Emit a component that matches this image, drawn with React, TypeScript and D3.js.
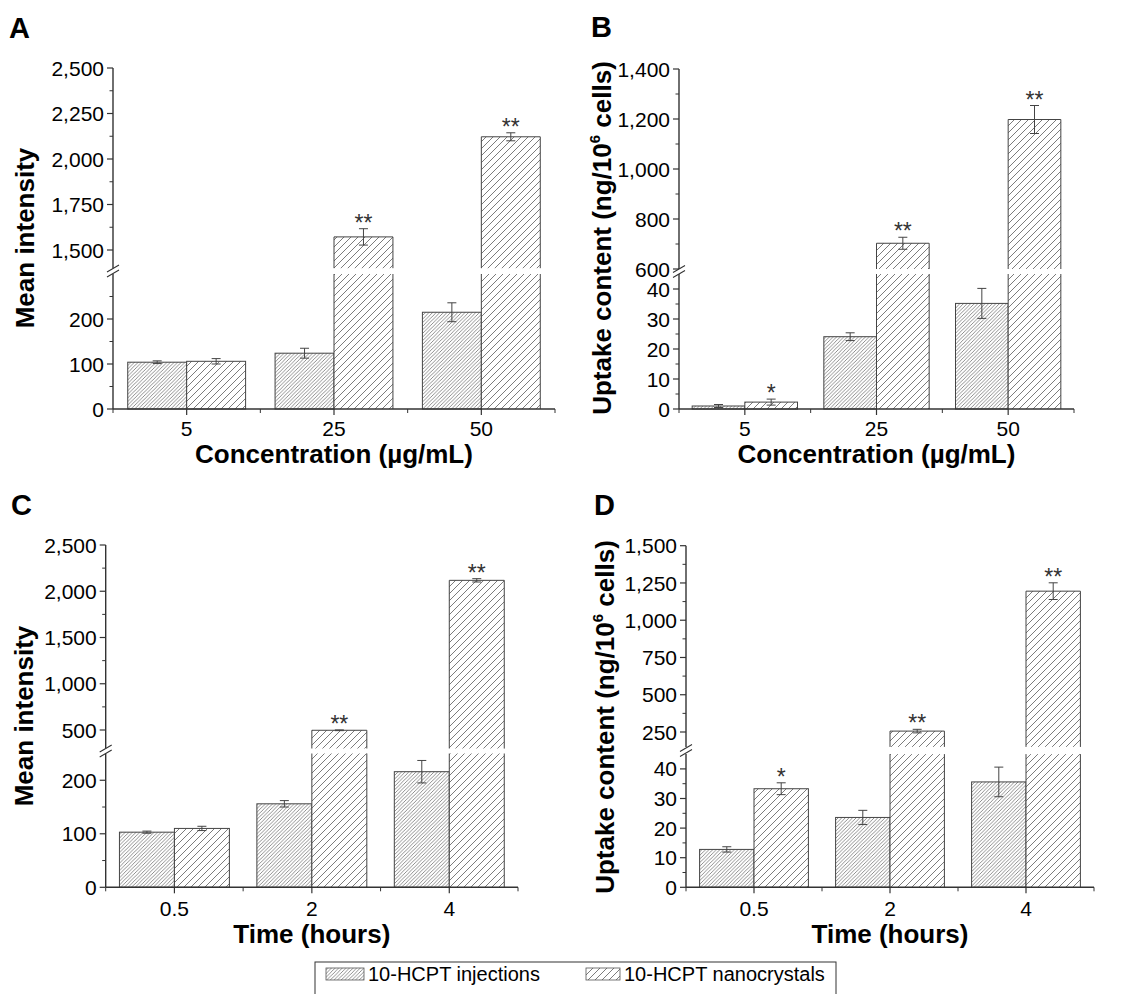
import React from "react";
import * as d3 from "d3";

// ---------- data ----------
const concCats = ["5", "25", "50"];
const timeCats = ["0.5", "2", "4"];

const aInj = [104, 124, 215];
const aInjErr = [3, 11, 21];
const aNano = [106, 1572, 2122];
const aNanoErr = [6, 45, 22];
const aStars = ["", "**", "**"];

const bInj = [1.0, 24.1, 35.2];
const bInjErr = [0.5, 1.3, 5.0];
const bNano = [2.3, 703, 1198];
const bNanoErr = [1.0, 24, 56];
const bStars = ["*", "**", "**"];

const cInj = [103, 156, 216];
const cInjErr = [2, 6, 21];
const cNano = [110, 497, 2118];
const cNanoErr = [4, 4, 18];
const cStars = ["", "**", "**"];

const dInj = [12.8, 23.6, 35.6];
const dInjErr = [0.9, 2.4, 5];
const dNano = [33.3, 256, 1195];
const dNanoErr = [2, 12, 56];
const dStars = ["*", "**", "**"];

// axis ticks (lower segment / upper segment of broken axes)
const aLowMajor = [0, 100, 200];
const aLowMinor = [50, 150, 250];
const aUpMajor = [1500, 1750, 2000, 2250, 2500];
const aUpMinor = [1625, 1875, 2125, 2375];

const bLowMajor = [0, 10, 20, 30, 40];
const bLowMinor = [5, 15, 25, 35];
const bUpMajor = [600, 800, 1000, 1200, 1400];
const bUpMinor = [700, 900, 1100, 1300];

const cLowMajor = [0, 100, 200];
const cLowMinor = [50, 150];
const cUpMajor = [500, 1000, 1500, 2000, 2500];
const cUpMinor = [750, 1250, 1750, 2250];

const dLowMajor = [0, 10, 20, 30, 40];
const dLowMinor = [5, 15, 25, 35];
const dUpMajor = [250, 500, 750, 1000, 1250, 1500];
const dUpMinor = [375, 625, 875, 1125, 1375];

const seriesNames = ["10-HCPT injections", "10-HCPT nanocrystals"];

const FONT = "'Liberation Sans', Arial, Helvetica, sans-serif";
const AX = "#333";

type Cfg = {
  letter: string; letterX: number; letterY: number;
  cats: string[];
  inj: number[]; injErr: number[]; nano: number[]; nanoErr: number[]; stars: string[];
  axisX: number; axisEnd: number; axisY: number;
  lowDomain: [number, number]; lowTopY: number;
  upDomain: [number, number]; upBottomY: number; upTopY: number;
  lowMajor: number[]; lowMinor: number[]; upMajor: number[]; upMinor: number[];
  yLabel: "mean" | "uptake"; yLabelX: number; yLabelY: number;
  xLabel: string; tickDy: number; titleDy: number;
};

const panels: Cfg[] = [
  {
    letter: "A", letterX: 9, letterY: 38, cats: concCats,
    inj: aInj, injErr: aInjErr, nano: aNano, nanoErr: aNanoErr, stars: aStars,
    axisX: 113, axisEnd: 555, axisY: 409,
    lowDomain: [0, 300], lowTopY: 274,
    upDomain: [1400, 2500], upBottomY: 268.2, upTopY: 68,
    lowMajor: aLowMajor, lowMinor: aLowMinor, upMajor: aUpMajor, upMinor: aUpMinor,
    yLabel: "mean", yLabelX: 34, yLabelY: 238, xLabel: "Concentration (µg/mL)",
    tickDy: 27, titleDy: 54,
  },
  {
    letter: "B", letterX: 591, letterY: 37, cats: concCats,
    inj: bInj, injErr: bInjErr, nano: bNano, nanoErr: bNanoErr, stars: bStars,
    axisX: 679, axisEnd: 1074, axisY: 409,
    lowDomain: [0, 45], lowTopY: 274,
    upDomain: [600, 1400], upBottomY: 269, upTopY: 69,
    lowMajor: bLowMajor, lowMinor: bLowMinor, upMajor: bUpMajor, upMinor: bUpMinor,
    yLabel: "uptake", yLabelX: 611, yLabelY: 238, xLabel: "Concentration (µg/mL)",
    tickDy: 27, titleDy: 54,
  },
  {
    letter: "C", letterX: 11, letterY: 515, cats: timeCats,
    inj: cInj, injErr: cInjErr, nano: cNano, nanoErr: cNanoErr, stars: cStars,
    axisX: 105.7, axisEnd: 518, axisY: 887.3,
    lowDomain: [0, 250], lowTopY: 753.5,
    upDomain: [300, 2500], upBottomY: 748.5, upTopY: 545,
    lowMajor: cLowMajor, lowMinor: cLowMinor, upMajor: cUpMajor, upMinor: cUpMinor,
    yLabel: "mean", yLabelX: 33, yLabelY: 716, xLabel: "Time (hours)",
    tickDy: 29, titleDy: 56,
  },
  {
    letter: "D", letterX: 594, letterY: 515, cats: timeCats,
    inj: dInj, injErr: dInjErr, nano: dNano, nanoErr: dNanoErr, stars: dStars,
    axisX: 686, axisEnd: 1094, axisY: 887.3,
    lowDomain: [0, 45], lowTopY: 754.1,
    upDomain: [150, 1500], upBottomY: 746.9, upTopY: 545.7,
    lowMajor: dLowMajor, lowMinor: dLowMinor, upMajor: dUpMajor, upMinor: dUpMinor,
    yLabel: "uptake", yLabelX: 614, yLabelY: 717, xLabel: "Time (hours)",
    tickDy: 29, titleDy: 56,
  },
];

const fmt = d3.format(",");
const TICK_FS = 21;

function Panel({ c }: { c: Cfg }) {
  const x = d3.scaleBand<string>().domain(c.cats).range([c.axisX, c.axisEnd]).paddingInner(0.2).paddingOuter(0.1);
  const sub = d3.scaleBand<string>().domain(["inj", "nano"]).range([0, x.bandwidth()]);
  const low = d3.scaleLinear().domain(c.lowDomain).range([c.axisY, c.lowTopY]);
  const up = d3.scaleLinear().domain(c.upDomain).range([c.upBottomY, c.upTopY]);
  const y = (v: number) => (v <= c.lowDomain[1] ? low(v) : up(v));
  const step = x.step();
  const breakMid = (c.lowTopY + c.upBottomY) / 2;

  const bars: any[] = [];
  c.cats.forEach((cat, i) => {
    (["inj", "nano"] as const).forEach((s) => {
      const v = s === "inj" ? c.inj[i] : c.nano[i];
      const e = s === "inj" ? c.injErr[i] : c.nanoErr[i];
      const bx = (x(cat) as number) + (sub(s) as number);
      const bw = sub.bandwidth();
      const fill = s === "inj" ? "url(#hInj)" : "url(#hNano)";
      const broken = v > c.lowDomain[1];
      const topY = y(v);
      const segs: any[] = [];
      if (!broken) {
        segs.push(
          <rect key="l" x={bx} y={topY} width={bw} height={c.axisY - topY} fill={fill} stroke="#444" strokeWidth={1} />
        );
      } else {
        segs.push(
          <g key="b">
            <rect x={bx} y={c.lowTopY} width={bw} height={c.axisY - c.lowTopY} fill={fill} />
            <rect x={bx} y={topY} width={bw} height={c.upBottomY - topY} fill={fill} />
            <path
              d={`M${bx},${c.axisY}V${c.lowTopY}M${bx + bw},${c.axisY}V${c.lowTopY}M${bx},${c.upBottomY}V${topY}H${bx + bw}V${c.upBottomY}`}
              fill="none" stroke="#444" strokeWidth={1}
            />
          </g>
        );
      }
      const cx = bx + bw / 2;
      const eTop = y(v + e);
      const eBot = y(v - e);
      segs.push(
        <path key="e" d={`M${cx},${eTop}V${eBot}M${cx - 4.5},${eTop}H${cx + 4.5}M${cx - 4.5},${eBot}H${cx + 4.5}`}
          stroke="#444" strokeWidth={1} fill="none" />
      );
      if (s === "nano" && c.stars[i]) {
        segs.push(
          <text key="s" x={cx} y={eTop + 2} textAnchor="middle" fontSize={23} fill="#333" fontFamily={FONT}>
            {c.stars[i]}
          </text>
        );
      }
      bars.push(<g key={cat + s}>{segs}</g>);
    });
  });

  const bounds = [0, 1, 2, 3].map((k) => c.axisX + step * k);

  return (
    <g fontFamily={FONT}>
      <text x={c.letterX} y={c.letterY} fontSize={29} fontWeight="bold" fill="#000">{c.letter}</text>
      {bars}
      {/* y axis */}
      <path d={`M${c.axisX},${c.axisY}V${c.lowTopY}`} stroke={AX} strokeWidth={1.4} />
      <path d={`M${c.axisX},${c.upBottomY}V${c.upTopY}`} stroke={AX} strokeWidth={1.4} />
      {c.lowMajor.map((t) => (
        <g key={"lm" + t}>
          <line x1={c.axisX - 6} x2={c.axisX} y1={low(t)} y2={low(t)} stroke={AX} strokeWidth={1.2} />
          <text x={c.axisX - 9} y={low(t)} dy="0.36em" textAnchor="end" fontSize={TICK_FS} fill="#000">{fmt(t)}</text>
        </g>
      ))}
      {c.lowMinor.map((t) => (
        <line key={"ln" + t} x1={c.axisX - 3.5} x2={c.axisX} y1={low(t)} y2={low(t)} stroke={AX} strokeWidth={1} />
      ))}
      {c.upMajor.map((t) => (
        <g key={"um" + t}>
          <line x1={c.axisX - 6} x2={c.axisX} y1={up(t)} y2={up(t)} stroke={AX} strokeWidth={1.2} />
          <text x={c.axisX - 9} y={up(t)} dy="0.36em" textAnchor="end" fontSize={TICK_FS} fill="#000">{fmt(t)}</text>
        </g>
      ))}
      {c.upMinor.map((t) => (
        <line key={"un" + t} x1={c.axisX - 3.5} x2={c.axisX} y1={up(t)} y2={up(t)} stroke={AX} strokeWidth={1} />
      ))}
      {/* break marks */}
      <path
        d={`M${c.axisX - 6},${breakMid + 1}L${c.axisX + 6},${breakMid - 6}M${c.axisX - 6},${breakMid + 6}L${c.axisX + 6},${breakMid - 1}`}
        stroke={AX} strokeWidth={1.1} fill="none"
      />
      {/* x axis */}
      <path d={`M${c.axisX},${c.axisY}H${c.axisEnd}`} stroke={AX} strokeWidth={1.4} />
      {bounds.map((bx, k) => (
        <line key={"xb" + k} x1={bx} x2={bx} y1={c.axisY} y2={c.axisY + 4} stroke={AX} strokeWidth={1} />
      ))}
      {c.cats.map((cat) => {
        const cx = (x(cat) as number) + x.bandwidth() / 2;
        return (
          <g key={"xt" + cat}>
            <line x1={cx} x2={cx} y1={c.axisY} y2={c.axisY + 6} stroke={AX} strokeWidth={1.2} />
            <text x={cx} y={c.axisY + c.tickDy} textAnchor="middle" fontSize={TICK_FS} fill="#000">{cat}</text>
          </g>
        );
      })}
      <text x={(c.axisX + c.axisEnd) / 2} y={c.axisY + c.titleDy} textAnchor="middle" fontSize={26} fontWeight="bold" fill="#000">
        {c.xLabel}
      </text>
      {c.yLabel === "mean" ? (
        <text transform={`translate(${c.yLabelX},${c.yLabelY}) rotate(-90)`} textAnchor="middle" fontSize={26} fontWeight="bold" fill="#000">
          Mean intensity
        </text>
      ) : (
        <text transform={`translate(${c.yLabelX},${c.yLabelY}) rotate(-90)`} textAnchor="middle" fontSize={26} fontWeight="bold" fill="#000">
          Uptake content (ng/10<tspan fontSize={15} dy={-11}>6</tspan><tspan dy={11}> cells)</tspan>
        </text>
      )}
    </g>
  );
}

export default function App() {
  return (
    <svg width={1126} height={994} viewBox="0 0 1126 994"
      style={{ position: "absolute", left: 0, top: 0, display: "block", background: "white" }}>
      <defs>
        <pattern id="hInj" patternUnits="userSpaceOnUse" width={3.6} height={3.6}>
          <rect width={3.6} height={3.6} fill="white" />
          <path d="M-0.9,0.9 L0.9,-0.9 M0,3.6 L3.6,0 M2.7,4.5 L4.5,2.7" stroke="#6a6a6a" strokeWidth={0.75} />
        </pattern>
        <pattern id="hNano" patternUnits="userSpaceOnUse" width={7} height={7}>
          <rect width={7} height={7} fill="white" />
          <path d="M-1,1 L1,-1 M0,7 L7,0 M6,8 L8,6" stroke="#5a5a5a" strokeWidth={0.8} />
        </pattern>
      </defs>
      <rect width={1126} height={994} fill="white" />
      {panels.map((p) => <Panel key={p.letter} c={p} />)}
      {/* legend */}
      <g fontFamily={FONT}>
        <rect x={315} y={962} width={521} height={40} fill="white" stroke="#333" strokeWidth={1} />
        <rect x={326} y={968} width={38} height={12} fill="url(#hInj)" stroke="#555" strokeWidth={0.8} />
        <text x={368} y={981} fontSize={20} fill="#000">{seriesNames[0]}</text>
        <rect x={586} y={968} width={34} height={12} fill="url(#hNano)" stroke="#555" strokeWidth={0.8} />
        <text x={624} y={981} fontSize={20} fill="#000">{seriesNames[1]}</text>
      </g>
    </svg>
  );
}
